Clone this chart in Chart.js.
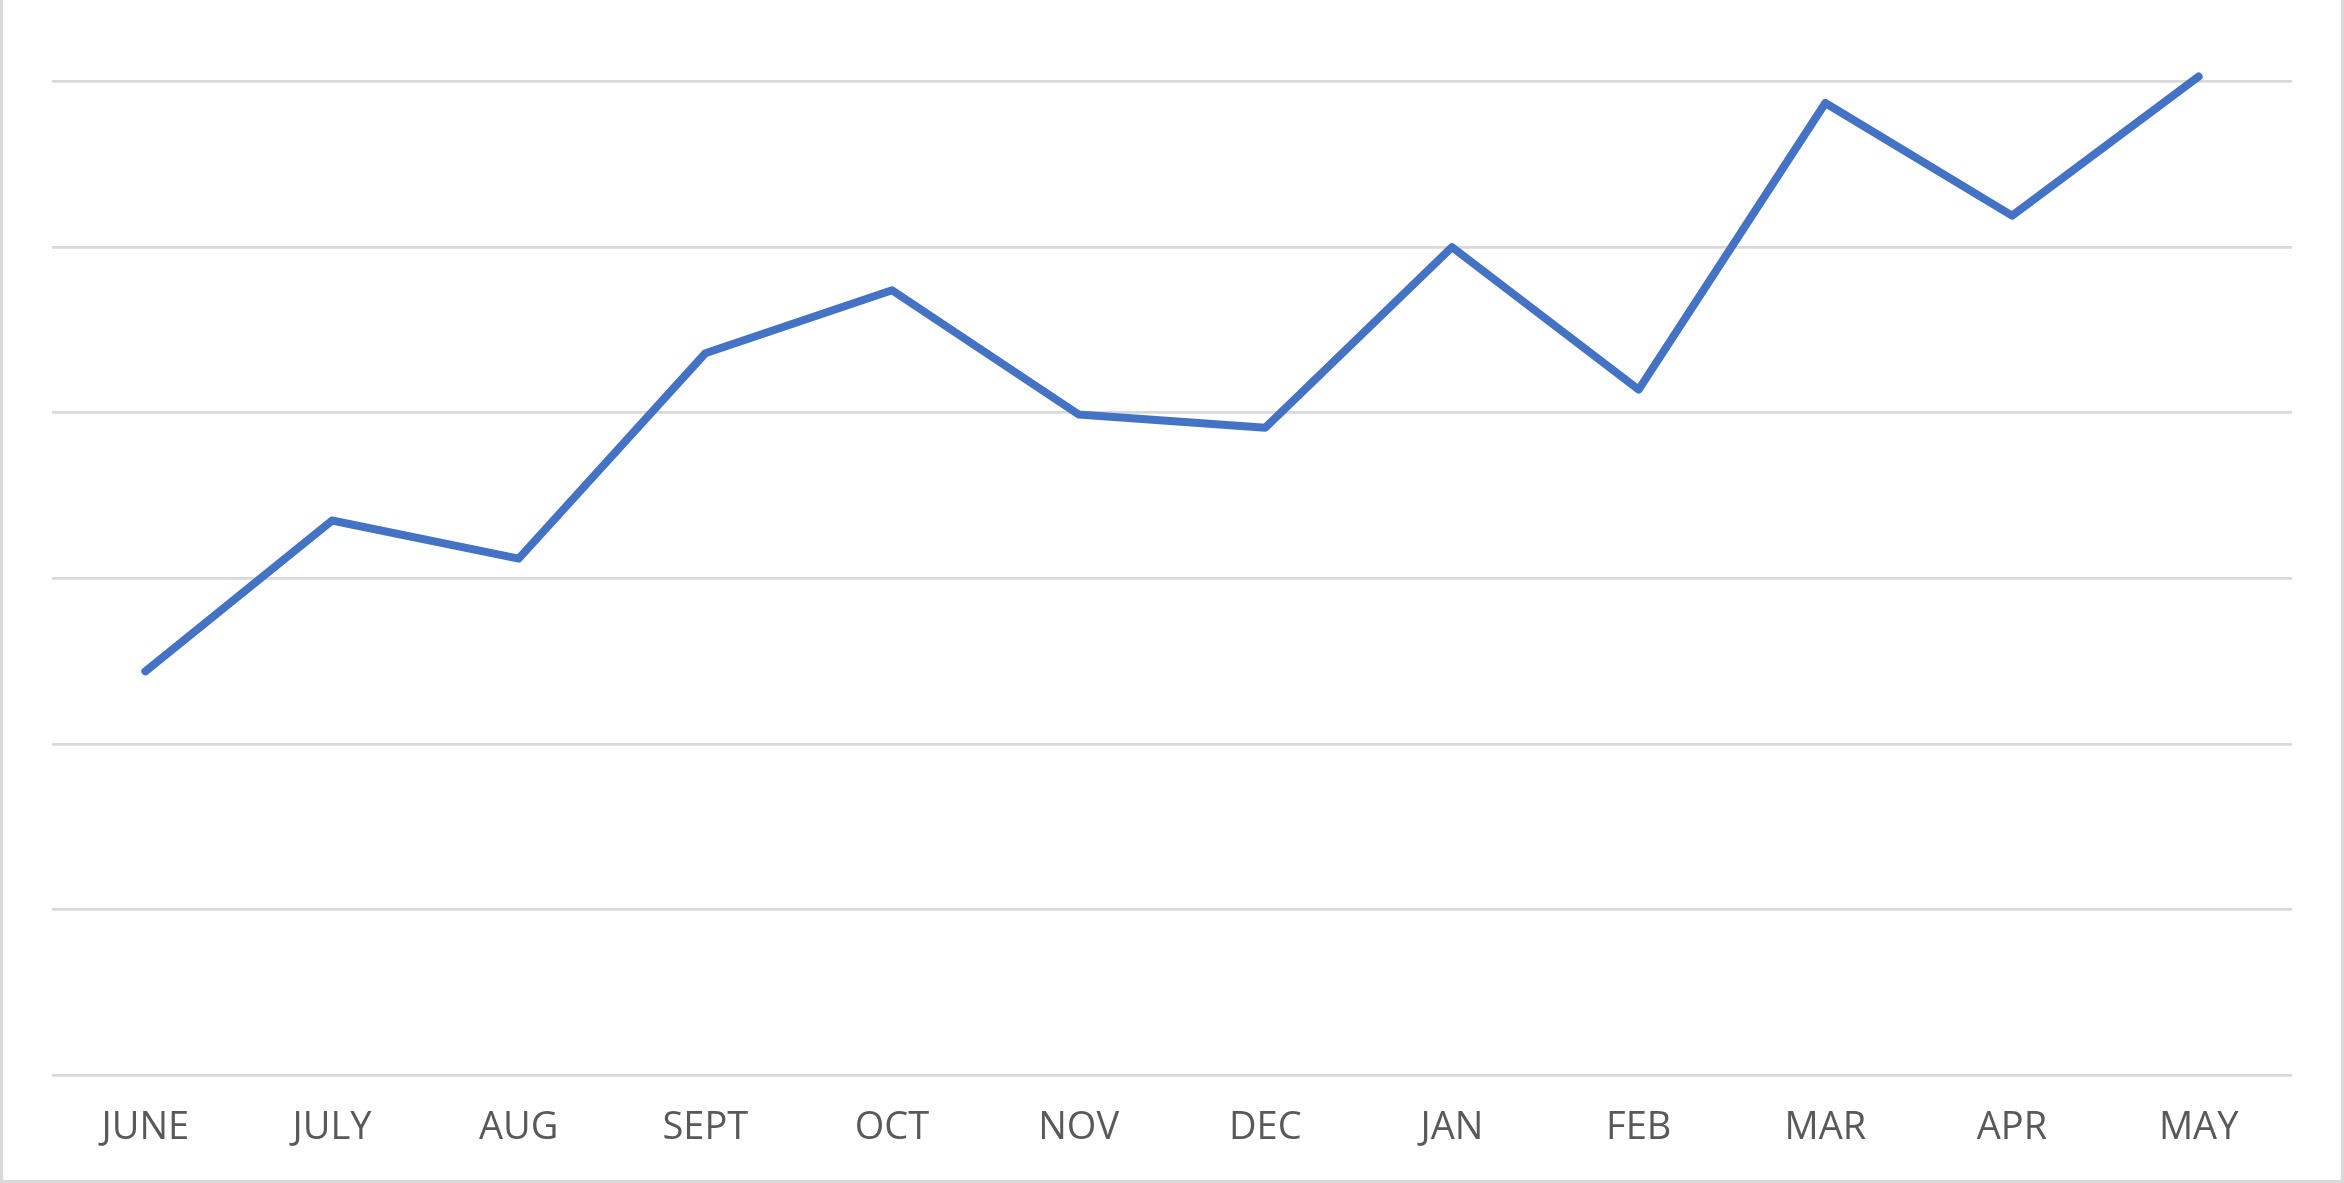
<!DOCTYPE html>
<html>
<head>
<meta charset="utf-8">
<script src="https://cdn.jsdelivr.net/npm/chart.js@4"></script>
<style>
  html, body { margin: 0; padding: 0; background: #fff; }
  #wrap { position: relative; width: 2344px; height: 1183px; }
  #frame {
    position: absolute; left: 0; top: 0; width: 2344px; height: 1183px;
    box-sizing: border-box; border: 3px solid #d9d9d9; border-top: none;
    pointer-events: none;
  }
</style>
</head>
<body>
<div id="wrap">
  <canvas id="myChart" width="2344" height="1183"></canvas>
  <div id="frame"></div>
</div>
<script>
const months = ["JUNE", "JULY", "AUG", "SEPT", "OCT", "NOV", "DEC", "JAN", "FEB", "MAR", "APR", "MAY"];
const values = [2.44, 3.35, 3.12, 4.36, 4.74, 3.99, 3.91, 5.0, 4.14, 5.87, 5.19, 6.03];

const ctx = document.getElementById("myChart");

new Chart(ctx, {
  type: "line",
  data: {
    labels: months,
    datasets: [
      {
        data: values,
        borderColor: "#4472C4",
        borderWidth: 8,
        borderCapStyle: "round",
        borderJoinStyle: "round",
        pointRadius: 0,
        tension: 0,
        fill: false,
        clip: false,
      },
    ],
  },
  options: {
    responsive: false,
    animation: false,
    devicePixelRatio: 1,
    layout: { padding: { left: 52, right: 52, top: 81.5, bottom: 0 } },
    plugins: {
      legend: { display: false },
      tooltip: { enabled: false },
    },
    scales: {
      x: {
        offset: true,
        grid: { display: false, drawTicks: false },
        border: { display: false },
        ticks: {
          color: "#595959",
          padding: 30,
          font: { family: "'Open Sans'", size: 38 },
          maxRotation: 0,
          autoSkip: false,
        },
        afterFit: (scale) => {
          scale.height = 107.5;
        },
      },
      y: {
        min: 0,
        max: 6,
        ticks: { display: false, stepSize: 1 },
        grid: { color: "#d9d9d9", lineWidth: 2.7, drawTicks: false },
        border: { display: false },
        afterFit: (scale) => {
          scale.width = 0;
        },
      },
    },
  },
});
</script>
</body>
</html>
